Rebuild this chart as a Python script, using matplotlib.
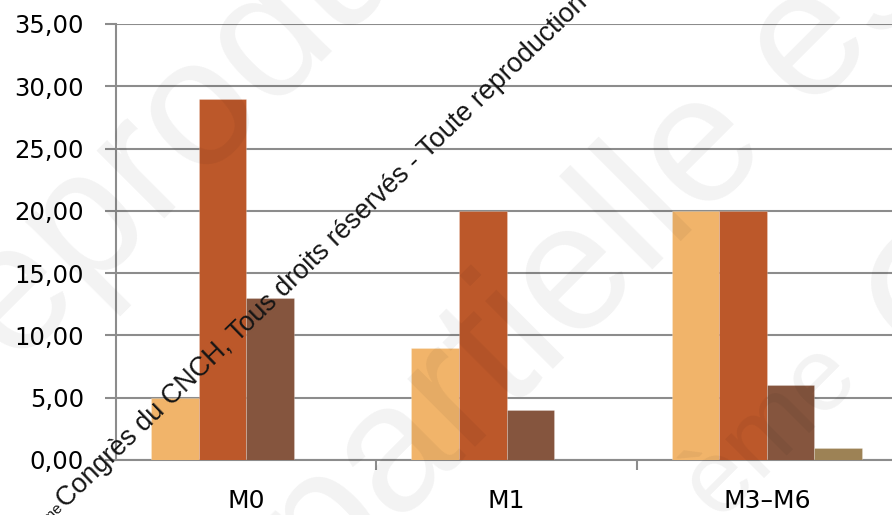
import matplotlib
matplotlib.use('Agg')
import matplotlib.pyplot as plt
import numpy as np

categories = ['M0', 'M1', 'M3–M6']
serie_1 = [5, 9, 20]
serie_2 = [29, 20, 20]
serie_3 = [13, 4, 6]
serie_4 = [0, 0, 1]
series = [serie_1, serie_2, serie_3, serie_4]
colors = ['#F1B46A', '#BC582A', '#85553E', '#9D8255']
y_ticks = [0, 5, 10, 15, 20, 25, 30, 35]
y_labels = [f"{v:.2f}".replace('.', ',') for v in y_ticks]

W, H = 892, 515
fig = plt.figure(figsize=(W / 100, H / 100), dpi=100)
fig.patch.set_facecolor('white')


def P(px, py):
    return (px / W, (H - py) / H)


ax = fig.add_axes([116 / W, 55 / H, 781 / W, 436 / H])
x = np.arange(len(categories))
w = 0.1827
for i, (vals, c) in enumerate(zip(series, colors)):
    ax.bar(x + (i - 1.5) * w, vals, w, color=c, zorder=3,
           edgecolor=(1, 1, 1, 0.25), linewidth=0.6)

grid_c = '#8c8c8c'
ax.set_xlim(-0.5, 2.5)
ax.set_ylim(0, 35)
ax.set_yticks(y_ticks)
ax.set_yticklabels(y_labels, fontsize=17.5, family='DejaVu Sans', color='#000000')
ax.yaxis.grid(True, color=grid_c, lw=1.5, zorder=1)
ax.set_axisbelow(True)
ax.tick_params(axis='y', length=8, width=1.5, color=grid_c, pad=15)
ax.set_xticks(x)
ax.set_xticklabels(categories, fontsize=18, family='DejaVu Sans', color='#000000')
ax.tick_params(axis='x', which='major', length=0, pad=21)
ax.set_xticks([0.5, 1.5], minor=True)
ax.tick_params(axis='x', which='minor', length=7.5, width=1.5, color=grid_c)
for s in ['top', 'right']:
    ax.spines[s].set_visible(False)
ax.spines['left'].set_color(grid_c)
ax.spines['left'].set_linewidth(1.5)
ax.spines['bottom'].set_color(grid_c)
ax.spines['bottom'].set_linewidth(1.5)

# large light watermark
wm = dict(color='black', alpha=0.05, rotation=45, rotation_mode='anchor',
          ha='left', va='baseline', family='Liberation Sans', zorder=10)
fig.text(*P(-31, 402), 'reproduction', fontsize=130, **wm)
fig.text(*P(325, 597), 'partielle est', fontsize=130, **wm)
fig.text(*P(718, 520), 'ème', fontsize=75, **wm)
fig.text(*P(929, 373), 'Congrès', fontsize=130, **wm)

# small diagonal copyright text
sm = dict(color='#151515', rotation=44, rotation_mode='anchor',
          va='baseline', family='Liberation Sans', zorder=11)
fig.text(*P(66, 509), 'Congrès du CNCH, Tous droits réservés - Toute reproduction même partielle interdite',
         fontsize=19.4, ha='left', **sm)
fig.text(*P(64, 508), 'ème', fontsize=11, ha='right', **sm)

fig.savefig('out.png', dpi=100)
